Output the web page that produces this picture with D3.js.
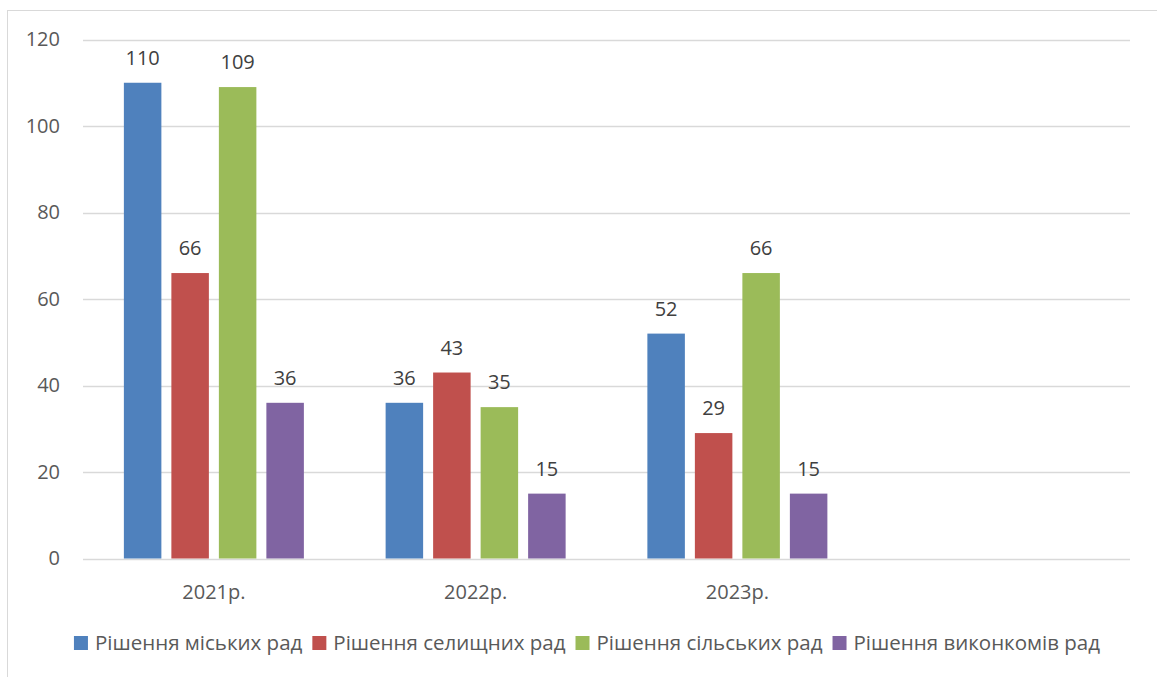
<!DOCTYPE html>
<html>
<head>
<meta charset="utf-8">
<script src="https://cdn.jsdelivr.net/npm/d3@7"></script>
<style>
  body { margin: 0; background: #fff; }
  svg { font-family: 'Open Sans', sans-serif; }
</style>
</head>
<body>
<div id="chart"></div>
<script>
// data
const categories = ['2021р.', '2022р.', '2023р.', ''];
const seriesNames = ['Рішення міських рад', 'Рішення селищних рад', 'Рішення сільських рад', 'Рішення виконкомів рад'];
const cityValues = [110, 36, 52];
const townValues = [66, 43, 29];
const villageValues = [109, 35, 66];
const executiveValues = [36, 15, 15];
const yTicks = [0, 20, 40, 60, 80, 100, 120];

const colors = ['#4F81BD', '#C0504D', '#9BBB59', '#8064A2'];
const seriesValues = [cityValues, townValues, villageValues, executiveValues];

const width = 1157;
const height = 677;

const svg = d3.select('#chart')
  .append('svg')
  .attr('width', width)
  .attr('height', height);

// outer chart border (runs off the right and bottom edges)
svg.append('rect')
  .attr('x', 7.5)
  .attr('y', 10.5)
  .attr('width', width)
  .attr('height', height)
  .attr('fill', 'none')
  .attr('stroke', '#D9D9D9')
  .attr('stroke-width', 1);

const plot = { left: 83, right: 1130, top: 39.5, bottom: 558.5 };

const x0 = d3.scaleBand()
  .domain(categories)
  .range([plot.left, plot.right]);

const x1 = d3.scaleBand()
  .domain(d3.range(seriesNames.length))
  .range([0, 180])
  .paddingInner(10 / 47.5);

const y = d3.scaleLinear()
  .domain([0, 120])
  .range([plot.bottom, plot.top]);

// gridlines
svg.append('g')
  .selectAll('line')
  .data(yTicks)
  .join('line')
  .attr('x1', plot.left)
  .attr('x2', plot.right)
  .attr('y1', d => Math.round(y(d)) + 0.5)
  .attr('y2', d => Math.round(y(d)) + 0.5)
  .attr('stroke', '#D9D9D9')
  .attr('stroke-width', 1.5);

// y axis labels
const yAxis = svg.append('g')
  .attr('transform', `translate(${plot.left - 23},0)`)
  .call(d3.axisLeft(y).tickValues(yTicks).tickSize(0).tickPadding(0));
yAxis.select('.domain').remove();
yAxis.selectAll('text')
  .attr('fill', '#595959')
  .style('font-family', "'Open Sans', sans-serif")
  .style('font-size', '20px');

// x axis labels
const xAxis = svg.append('g')
  .attr('transform', `translate(0,${plot.bottom + 26})`)
  .call(d3.axisBottom(x0).tickSize(0).tickPadding(0));
xAxis.select('.domain').remove();
xAxis.selectAll('text')
  .attr('fill', '#595959')
  .style('font-family', "'Open Sans', sans-serif")
  .style('font-size', '20px');

// bars
const rows = categories.slice(0, 3).map((c, i) => ({
  category: c,
  values: seriesValues.map((vals, s) => ({ s, value: vals[i] }))
}));

const groups = svg.append('g')
  .selectAll('g')
  .data(rows)
  .join('g')
  .attr('transform', d => `translate(${x0(d.category) + x0.bandwidth() / 2 - 90},0)`);

groups.selectAll('rect')
  .data(d => d.values)
  .join('rect')
  .attr('x', d => x1(d.s))
  .attr('y', d => y(d.value))
  .attr('width', x1.bandwidth())
  .attr('height', d => y(0) - y(d.value))
  .attr('fill', d => colors[d.s]);

groups.selectAll('text')
  .data(d => d.values)
  .join('text')
  .attr('x', d => x1(d.s) + x1.bandwidth() / 2)
  .attr('y', d => y(d.value) - 18)
  .attr('text-anchor', 'middle')
  .attr('fill', '#404040')
  .style('font-size', '20px')
  .text(d => d.value);

// legend
const legend = svg.append('g')
  .attr('transform', 'translate(0,643)');

const items = legend.selectAll('g')
  .data(seriesNames)
  .join('g');

items.append('rect')
  .attr('y', -7)
  .attr('width', 14)
  .attr('height', 14)
  .attr('fill', (d, i) => colors[i]);

items.append('text')
  .attr('x', 21)
  .attr('dy', '0.35em')
  .attr('fill', '#595959')
  .style('font-size', '20.5px')
  .text(d => d);

// lay out legend items side by side, centred
let offset = 0;
const positions = [];
items.each(function () {
  const w = this.querySelector('text').getComputedTextLength() + 21;
  positions.push(offset);
  offset += w + 10;
});
const startX = 587 - (offset - 10) / 2;
items.attr('transform', (d, i) => `translate(${startX + positions[i]},0)`);
</script>
</body>
</html>
